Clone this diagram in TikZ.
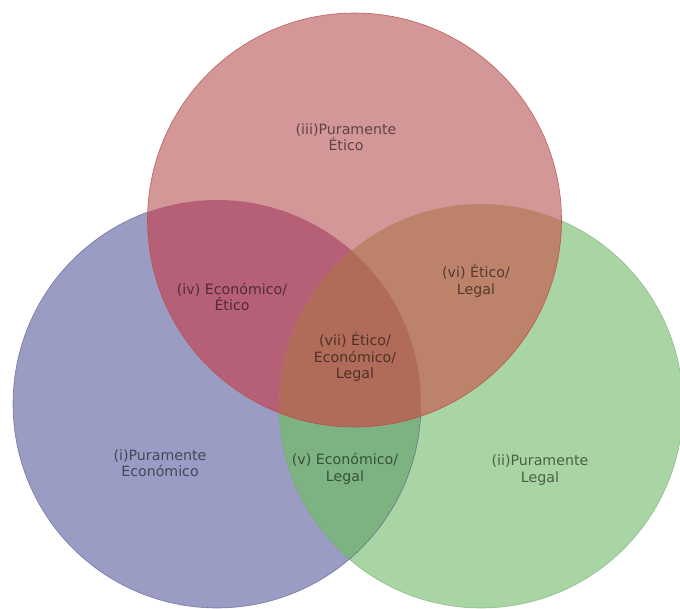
\documentclass[tikz,border=0pt]{standalone}
\usepackage{fontspec}
\setmainfont{DejaVu Sans}
\definecolor{redc}{HTML}{D49797}
\definecolor{bluec}{HTML}{9A9CC4}
\definecolor{greenc}{HTML}{A9D4A4}
\definecolor{rbc}{HTML}{B66078}
\definecolor{rgc}{HTML}{BC826A}
\definecolor{bgc}{HTML}{7DB282}
\definecolor{allc}{HTML}{B06C58}
\definecolor{redline}{HTML}{B84848}
\definecolor{blueline}{HTML}{4A4C88}
\definecolor{greenline}{HTML}{68A868}
\tikzset{
  lbl/.style={align=center, text=black, text opacity=0.55, inner sep=0pt,
    font=\fontsize{14.2}{16.5}\selectfont},
}
\begin{document}
\begin{tikzpicture}[x=1pt,y=-1pt]
\useasboundingbox (0,0) rectangle (680,608);
\fill[white] (0,0) rectangle (680,608);
\coordinate (R) at (354.5,220);
\coordinate (B) at (217,404);
\coordinate (G) at (481,406);
\def\rR{207pt}\def\rB{204pt}\def\rG{202pt}
% blue and green
\fill[bluec] (B) circle[radius=\rB];
\fill[greenc] (G) circle[radius=\rG];
\begin{scope}
  \clip (B) circle[radius=\rB];
  \fill[bgc] (G) circle[radius=\rG];
\end{scope}
\draw[blueline, line width=0.6pt, draw opacity=0.6] (B) circle[radius=\rB];
\draw[greenline, line width=0.6pt, draw opacity=0.6] (G) circle[radius=\rG];
% red on top
\fill[redc] (R) circle[radius=\rR];
\begin{scope}
  \clip (R) circle[radius=\rR];
  \fill[rbc] (B) circle[radius=\rB];
  \fill[rgc] (G) circle[radius=\rG];
  \clip (B) circle[radius=\rB];
  \fill[allc] (G) circle[radius=\rG];
\end{scope}
\draw[redline, line width=0.6pt, draw opacity=0.8] (R) circle[radius=\rR];
% labels
\node[lbl] (l3) at (346,137) {(iii)Puramente\\Ético};
\node[lbl] (l4) at (232,297) {(iv) Económico/\\Ético};
\node[lbl] (l6) at (476,281) {(vi) Ético/\\Legal};
\node[lbl] (l7) at (355,357) {(vii) Ético/\\Económico/\\Legal};
\node[lbl] (l1) at (160,463) {(i)Puramente\\Económico};
\node[lbl] (l5) at (345,469) {(v) Económico/\\Legal};
\node[lbl] (l2) at (540,470) {(ii)Puramente\\Legal};
\end{tikzpicture}
\end{document}
